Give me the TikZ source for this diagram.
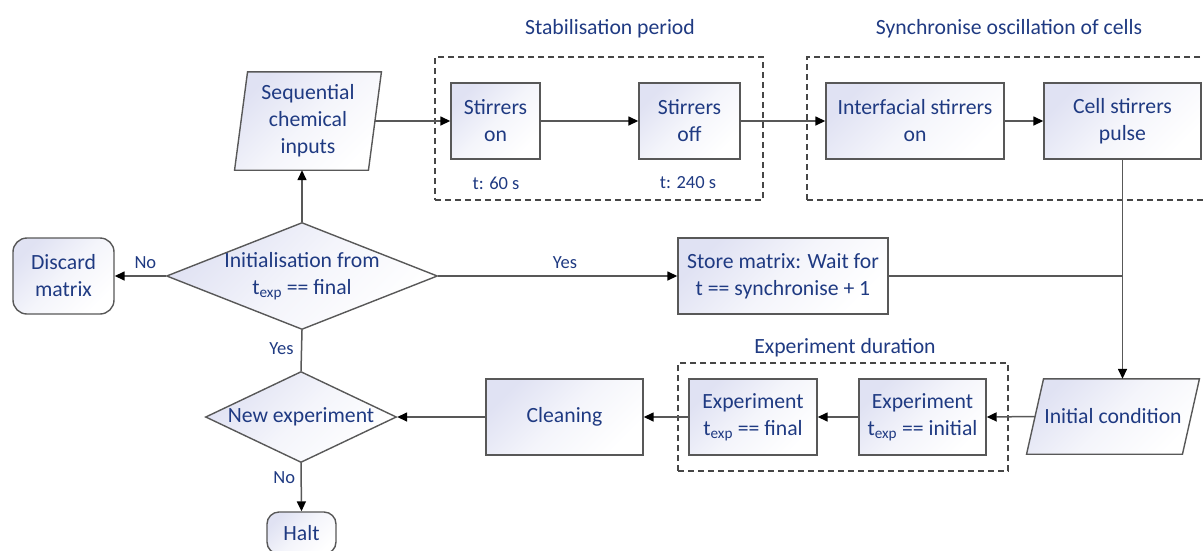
\documentclass[tikz,border=0pt]{standalone}
\usepackage{fontspec}
\setmainfont{Carlito}
\usetikzlibrary{arrows.meta,shapes.geometric,backgrounds}
\definecolor{ink}{RGB}{31,58,130}
\definecolor{edge}{RGB}{88,88,88}
\definecolor{wash}{RGB}{224,226,243}
\begin{document}
\begin{tikzpicture}[x=1pt,y=-1pt,
  every node/.style={text=ink, font=\fontsize{21.7}{27}\selectfont},
  shaded/.style={draw=edge, line width=1.4pt, top color=wash, bottom color=white,
    middle color=wash!35!white, shading angle=45},
  proc/.style={shaded, rectangle, align=center, inner sep=0pt},
  term/.style={proc, rounded corners=14pt},
  io/.style={rectangle, align=center, inner sep=0pt},
  dec/.style={shaded, diamond, inner sep=0pt},
  grp/.style={draw=edge!80!black, line width=1.3pt, dash pattern=on 6pt off 4pt, rectangle, inner sep=0pt},
  lbl/.style={font=\fontsize{18.5}{22}\selectfont},
  flow/.style={draw=edge, line width=1.5pt, -{Triangle[length=10pt,width=9pt,color=black]}},
  link/.style={draw=edge, line width=1.5pt},
]
\useasboundingbox (0,0) rectangle (1203,550);
\clip (0,0) rectangle (1203,550);

% group frames and their titles
\node[grp, minimum width=328pt, minimum height=143pt] (stab) at (599,128.5) {};
\node[grp, minimum width=410pt, minimum height=143pt] (sync) at (1012,128.5) {};
\node[grp, minimum width=330pt, minimum height=108pt] (expd) at (843,417) {};
\node (stabT) at (610,29) {Stabilisation period};
\node (syncT) at (1009,29) {Synchronise oscillation of cells};
\node (expdT) at (845,348) {Experiment duration};

% top row
\node[io, minimum width=133.5pt, minimum height=98pt] (seq) at (308,121) {Sequential\\chemical\\inputs};
\node[proc, minimum width=89pt, minimum height=76pt] (son) at (495.5,121) {Stirrers\\on};
\node[proc, minimum width=101pt, minimum height=76pt] (soff) at (689.5,121) {Stirrers\\off};
\node[proc, minimum width=178pt, minimum height=76pt] (ifs) at (915,121) {Interfacial stirrers\\on};
\node[proc, minimum width=157pt, minimum height=76pt] (csp) at (1122.5,121) {Cell stirrers\\pulse};
\node[lbl] (t60) at (496,183) {t: 60 s};
\node[lbl] (t240) at (688,183) {t: 240 s};

% middle row
\node[dec, minimum width=271pt, minimum height=107pt,
  label={[align=center]center:Initialisation from\\t\textsubscript{exp} == final}] (init) at (302,276) {};
\node[term, minimum width=101pt, minimum height=76pt] (disc) at (63.5,276) {Discard\\matrix};
\node[proc, minimum width=210pt, minimum height=76pt] (store) at (783,276) {Store matrix: Wait for\\t == synchronise + 1};

% bottom row
\node[io, minimum width=155.5pt, minimum height=75pt] (ic) at (1113,416.5) {Initial condition};
\node[proc, minimum width=127pt, minimum height=76pt] (expi) at (922.5,417) {Experiment\\t\textsubscript{exp} == initial};
\node[proc, minimum width=128pt, minimum height=76pt] (expf) at (753,417) {Experiment\\t\textsubscript{exp} == final};
\node[proc, minimum width=157pt, minimum height=76pt] (clean) at (564.5,417) {Cleaning};
\node[dec, minimum width=191pt, minimum height=91pt,
  label={center:New experiment}] (newx) at (301,417) {};
\node[term, minimum width=69pt, minimum height=42pt, rounded corners=12pt] (halt) at (301.5,533) {Halt};

% parallelogram outlines behind the input/output texts
\begin{scope}[on background layer]
  \path[shaded] ([xshift=6.5pt]seq.north west) -- ([xshift=6.5pt]seq.north east)
    -- ([xshift=-6.5pt]seq.south east) -- ([xshift=-6.5pt]seq.south west) -- cycle;
  \path[shaded] ([xshift=8.5pt]ic.north west) -- ([xshift=8.5pt]ic.north east)
    -- ([xshift=-8.5pt]ic.south east) -- ([xshift=-8.5pt]ic.south west) -- cycle;
\end{scope}

% connectors
\draw[flow] (seq.east) -- (son.west);
\draw[flow] (son.east) -- (soff.west);
\draw[flow] (soff.east) -- (ifs.west);
\draw[flow] (ifs.east) -- (csp.west);
\draw[flow] (csp.south) -- (csp.south |- ic.north);
\draw[link] (store.east) -- (store.east -| csp.south);
\draw[flow] (init.north) -- (init.north |- seq.south);
\draw[flow] (init.west) -- node[lbl, above=3pt, pos=0.4] {No} (disc.east);
\draw[flow] (init.east) -- node[lbl, above=3pt, pos=0.53] {Yes} (store.west);
\draw[link] (init.south) -- node[lbl, left=4pt, pos=0.45] {Yes} (newx.north);
\draw[flow] (ic.west) -- (expi.east);
\draw[flow] (expi.west) -- (expf.east);
\draw[flow] (expf.west) -- (clean.east);
\draw[flow] (clean.west) -- (newx.east);
\draw[flow] (newx.south) -- node[lbl, left=2pt, pos=0.3] {No} (halt.north);
\end{tikzpicture}
\end{document}
